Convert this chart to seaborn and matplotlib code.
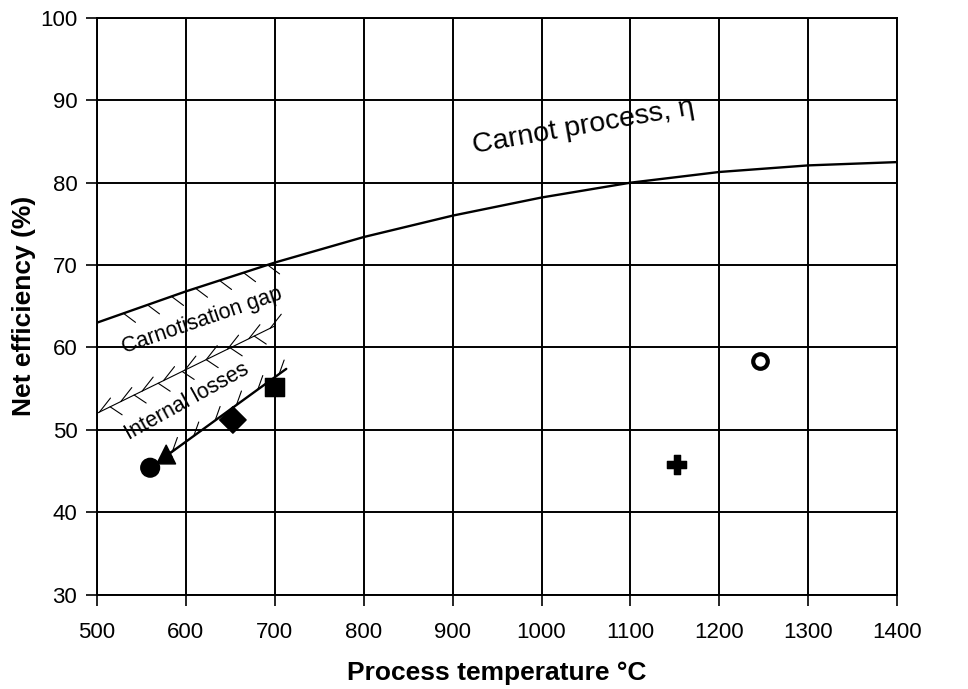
import numpy as np
import pandas as pd
import matplotlib
matplotlib.use("Agg")
import matplotlib.pyplot as plt
import seaborn as sns

# Carnot curve
carnot_t = [500, 600, 700, 800, 900, 1000, 1100, 1200, 1300, 1400]
carnot_eff = [63.0, 66.8, 70.3, 73.4, 76.0, 78.2, 80.0, 81.3, 82.1, 82.5]

# internal losses line (upper edge of the losses band)
losses_t = [500, 700]
losses_eff = [52.0, 62.6]

# process points
proc_names = ["circle", "triangle", "diamond", "square", "plus", "open"]
proc_t = [560, 578, 653, 700, 1152, 1246]
proc_eff = [45.4, 47.0, 51.2, 55.2, 45.8, 58.3]

# trend line through the low temperature processes
trend_t = [570, 713]
trend_eff = [46.2, 57.4]

sns.set_theme(style="white")
plt.rcParams['font.family'] = ['Liberation Sans', 'DejaVu Sans']
plt.rcParams['text.color'] = 'black'
plt.rcParams['axes.labelcolor'] = 'black'

fig, ax = plt.subplots(figsize=(9.68, 6.89), dpi=100)
fig.subplots_adjust(left=0.1, right=0.927, top=0.974, bottom=0.137)

ax.set_xlim(500, 1400)
ax.set_ylim(30, 100)

carnot = pd.DataFrame({"t": carnot_t, "eff": carnot_eff})
sns.lineplot(data=carnot, x="t", y="eff", ax=ax, color="black", lw=1.7)

losses = pd.DataFrame({"t": losses_t, "eff": losses_eff})
sns.lineplot(data=losses, x="t", y="eff", ax=ax, color="black", lw=0.8)

trend = pd.DataFrame({"t": trend_t, "eff": trend_eff})
sns.lineplot(data=trend, x="t", y="eff", ax=ax, color="black", lw=1.7)

# short hatch strokes, given in pixel offsets from points on a line
def strokes(xs, ys, dx, dy, lw=0.8):
    for x, y in zip(xs, ys):
        px, py = ax.transData.transform((x, y))
        x2, y2 = ax.transData.inverted().transform((px + dx, py + dy))
        ax.plot([x, x2], [y, y2], color="black", lw=lw)

# under the Carnot curve between 500 and 700
ct = np.arange(530, 700, 27)
strokes(ct, np.interp(ct, carnot_t, carnot_eff), 12, -9)
# hatch under the losses line
lt = np.arange(515, 700, 27)
strokes(lt, np.interp(lt, losses_t, losses_eff), 12, -8)
# arrow feathers on the losses line
ft = np.arange(503, 700, 24)
strokes(ft, np.interp(ft, losses_t, losses_eff), 11, 14)
# strokes above the trend line
tt = np.arange(585, 720, 24)
strokes(tt, np.interp(tt, trend_t, trend_eff), 5, 14)
# arrow head at the lower end of the trend line
ax.annotate("", xy=(trend_t[0], trend_eff[0]),
            xytext=(trend_t[0] + 20, trend_eff[0] + 1.6),
            arrowprops=dict(arrowstyle="-|>", color="black", lw=1.4, mutation_scale=14))

points = pd.DataFrame({"t": proc_t, "eff": proc_eff, "kind": proc_names})
markers = {"circle": "o", "triangle": "^", "diamond": "D", "square": "s",
           "plus": "P", "open": "o"}
filled = points[points["kind"] != "open"]
sns.scatterplot(data=filled, x="t", y="eff", style="kind", markers=markers,
                color="black", edgecolor="black", s=180, ax=ax, legend=False, zorder=5)
sns.scatterplot(data=points[points["kind"] == "open"], x="t", y="eff",
                marker="o", facecolor="white", edgecolor="black", linewidth=3,
                s=110, ax=ax, legend=False, zorder=5)

ax.text(1047, 86.8, "Carnot process, η", rotation=10, ha="center", va="center", fontsize=20.5)
ax.text(618, 63.2, "Carnotisation gap", rotation=19, ha="center", va="center", fontsize=15.5)
ax.text(601, 53.4, "Internal losses", rotation=29, ha="center", va="center", fontsize=15.5)

ax.set_xticks(range(500, 1401, 100))
ax.set_yticks(range(30, 101, 10))
ax.grid(True, color="black", lw=1.4)
for s in ax.spines.values():
    s.set_color("black")
    s.set_linewidth(1.4)
ax.tick_params(axis="both", which="both", direction="out", length=8, width=1.2,
               color="black", labelsize=16, labelcolor="black", left=True, bottom=True)
ax.tick_params(axis="y", pad=6)
ax.tick_params(axis="x", pad=12)
ax.set_xlabel("Process temperature °C", fontsize=19, fontweight="bold", labelpad=13)
ax.set_ylabel("Net efficiency (%)", fontsize=19, fontweight="bold", labelpad=3)

fig.savefig("out.png", dpi=100)
